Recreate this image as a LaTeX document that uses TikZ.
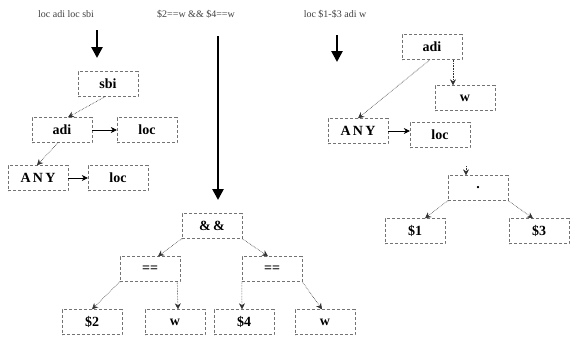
\documentclass[tikz,border=0pt]{standalone}
\usepackage{fontspec}
\setmainfont{Liberation Serif}
\usetikzlibrary{arrows.meta}

\begin{document}
\begin{tikzpicture}[x=1pt, y=-1pt,
  tnode/.style={draw=black!55, densely dashed, thin, minimum width=60pt,
                minimum height=25pt, inner sep=0pt,
                font=\fontsize{14}{14}\selectfont\bfseries},
  lnk/.style={-{Stealth[length=6pt,width=6pt]}, densely dotted, semithick, draw=black!80},
  solid lnk/.style={-{Stealth[length=6pt,width=6pt]}, semithick},
  bigarr/.style={-{Triangle[length=11pt,width=11pt]}, line width=2.6pt},
  ttl/.style={font=\fontsize{10}{10}\selectfont, text=black!75}]
\useasboundingbox (0,0) rectangle (570,340);

% stack contents
\node[ttl] (t1) at (66,14) {loc adi loc sbi};
\node[ttl] (t2) at (196,14) {\$2==w \&\& \$4==w};
\node[ttl] (t3) at (335,14) {loc \$1-\$3 adi w};

\coordinate (a1) at (97,30);   \coordinate (a1e) at (97,58);
\coordinate (a2) at (218,36);  \coordinate (a2e) at (218,200);
\coordinate (a3) at (337,35);  \coordinate (a3e) at (337,62);
\draw[bigarr] (a1) -- (a1e);
\draw[bigarr] (a2) -- (a2e);
\draw[bigarr] (a3) -- (a3e);

% first tree
\node[tnode] (sbi) at (108,84) {sbi};
\node[tnode] (adiA) at (62,130) {adi};
\node[tnode] (locA) at (147,130) {loc};
\node[tnode] (anyA) at (38,178) {A\,N\,Y};
\node[tnode] (locB) at (118,178) {loc};
\draw[lnk] ([xshift=-3pt]sbi.south) -- ([xshift=6pt]adiA.north);
\draw[lnk] ([xshift=-4pt]adiA.south) -- ([xshift=-1pt]anyA.north);
\draw[solid lnk] (adiA.east) -- (locA.west);
\draw[solid lnk] (anyA.east) -- (locB.west);

% second tree
\node[tnode] (andop) at (212,226) {\&\,\&};
\node[tnode] (eqL) at (150,269) {==};
\node[tnode] (eqR) at (272,269) {==};
\node[tnode] (dtwo) at (92,322) {\$2};
\node[tnode] (wA) at (175,322) {w};
\node[tnode] (dfour) at (244,322) {\$4};
\node[tnode] (wB) at (325,322) {w};
\draw[lnk] (andop.south west) -- ([xshift=8pt]eqL.north);
\draw[lnk] (andop.south east) -- ([xshift=-4pt]eqR.north);
\draw[lnk] (eqL.south west) -- (dtwo.north);
\draw[lnk] ([xshift=-3pt]eqL.south east) -- ([xshift=3pt]wA.north);
\draw[lnk] (eqR.south west) -- ([xshift=-2pt]dfour.north);
\draw[lnk] (eqR.south east) -- ([xshift=-3pt]wB.north);

% third tree
\node[tnode] (adiB) at (432,47) {adi};
\node[tnode] (wC) at (465,98) {w};
\node[tnode] (anyB) at (358,131) {A\,N\,Y};
\node[tnode] (locC) at (440,135) {loc};
\node[tnode] (sub) at (478,188) {.};
\node[tnode] (done) at (415,231) {\$1};
\node[tnode] (dthree) at (539,231) {\$3};
\coordinate (subin) at (466,166);
\draw[lnk] ([xshift=-2pt]adiB.south) -- (anyB.north);
\draw[lnk] ([xshift=21pt]adiB.south) -- ([xshift=-12pt]wC.north);
\draw[solid lnk] (anyB.east) -- (anyB.east -| locC.west);
\draw[lnk] (subin) -- ([xshift=-12pt]sub.north);
\draw[lnk] (sub.south west) -- ([xshift=10pt]done.north);
\draw[lnk] (sub.south east) -- ([xshift=-6pt]dthree.north);
\end{tikzpicture}
\end{document}
